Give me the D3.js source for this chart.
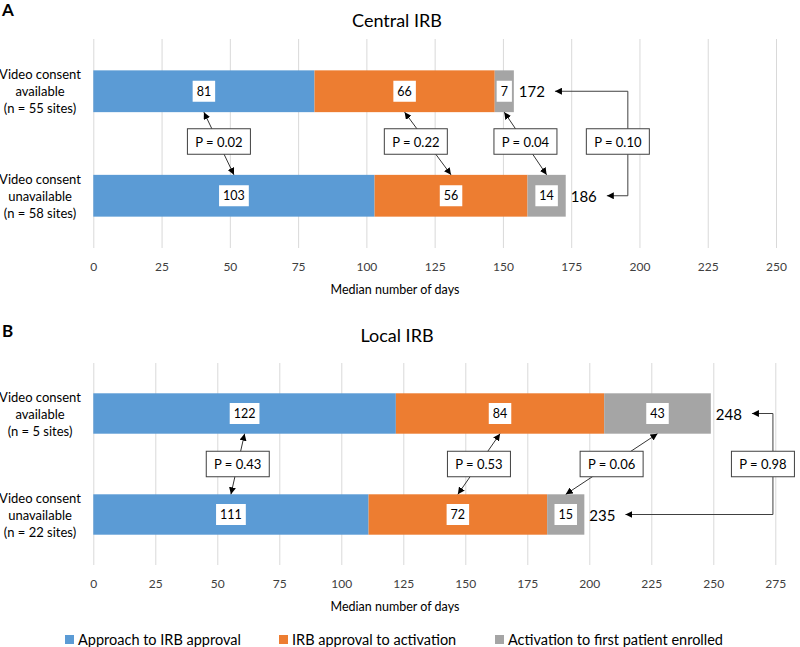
<!DOCTYPE html>
<html><head><meta charset="utf-8">
<script src="https://cdn.jsdelivr.net/npm/d3@7"></script>
<style>body{margin:0;background:#fff} svg{display:block;font-family:Lato, "Open Sans", sans-serif}</style>
</head><body><svg id="c" width="800" height="647"></svg>
<script>
// ---------- data ----------
const seriesNames = ["Approach to IRB approval", "IRB approval to activation", "Activation to first patient enrolled"];
const seriesColors = ["#5B9BD5", "#ED7D31", "#A5A5A5"];

const centralCategories = [["Video consent", "available", "(n = 55 sites)"], ["Video consent", "unavailable", "(n = 58 sites)"]];
const centralApproach = [81, 103];
const centralIrbToActivation = [66, 56];
const centralActivationToFirst = [7, 14];
const centralTotals = [172, 186];
const centralSegmentP = ["P = 0.02", "P = 0.22", "P = 0.04"];
const centralTotalP = "P = 0.10";
const centralTicks = [0, 25, 50, 75, 100, 125, 150, 175, 200, 225, 250];

const localCategories = [["Video consent", "available", "(n = 5 sites)"], ["Video consent", "unavailable", "(n = 22 sites)"]];
const localApproach = [122, 111];
const localIrbToActivation = [84, 72];
const localActivationToFirst = [43, 15];
const localTotals = [248, 235];
const localSegmentP = ["P = 0.43", "P = 0.53", "P = 0.06"];
const localTotalP = "P = 0.98";
const localTicks = [0, 25, 50, 75, 100, 125, 150, 175, 200, 225, 250, 275];

const axisTitle = "Median number of days";

// ---------- layout ----------
const svg = d3.select("#c");
const defs = svg.append("defs");
defs.append("marker").attr("id", "arr").attr("viewBox", "0 0 10 10")
  .attr("refX", 10).attr("refY", 5).attr("markerWidth", 7).attr("markerHeight", 7)
  .attr("markerUnits", "userSpaceOnUse").attr("orient", "auto-start-reverse")
  .append("path").attr("d", "M0,0 L10,5 L0,10 z").attr("fill", "#000");

const panels = [
  {letter: "A", title: "Central IRB", cats: centralCategories,
   series: [centralApproach, centralIrbToActivation, centralActivationToFirst],
   totals: centralTotals, segP: centralSegmentP, totalP: centralTotalP, ticks: centralTicks,
   letterY: 16, titleY: 27, gridTop: 39, gridBottom: 248, x0: 93.3, x1: 776, boxNudge: [0, -12, 0], pBoxDy: -2},
  {letter: "B", title: "Local IRB", cats: localCategories,
   series: [localApproach, localIrbToActivation, localActivationToFirst],
   totals: localTotals, segP: localSegmentP, totalP: localTotalP, ticks: localTicks,
   letterY: 337, titleY: 342, gridTop: 363, gridBottom: 565, x0: 93.3, x1: 775.3, boxNudge: [0, 0, 0], pBoxDy: 0}
];

function pBox(g, cx, cy, label) {
  const w = 63, h = 25.5;
  g.append("rect").attr("x", cx - w / 2).attr("y", cy - h / 2).attr("width", w).attr("height", h)
    .attr("fill", "#fff").attr("stroke", "#404040").attr("stroke-width", 1);
  g.append("text").attr("x", cx).attr("y", cy).attr("text-anchor", "middle")
    .attr("dominant-baseline", "central").attr("font-size", 13).attr("fill", "#000").text(label);
}

panels.forEach(p => {
  const g = svg.append("g");
  const maxTick = p.ticks[p.ticks.length - 1];
  const x = d3.scaleLinear().domain([0, maxTick]).range([p.x0, p.x1]);
  const y = d3.scaleBand().domain([0, 1]).range([p.gridTop, p.gridBottom]).paddingInner(0.6).paddingOuter(0.3);

  // letter and title
  g.append("text").attr("x", 2).attr("y", p.letterY).attr("font-size", 17).attr("font-weight", "bold").text(p.letter);
  g.append("text").attr("x", 397).attr("y", p.titleY).attr("text-anchor", "middle").attr("font-size", 18).attr("fill", "#000").text(p.title);

  // axis + gridlines
  const ax = g.append("g").attr("transform", `translate(0,${p.gridBottom})`)
    .call(d3.axisBottom(x).tickValues(p.ticks).tickSize(-(p.gridBottom - p.gridTop)).tickPadding(14));
  ax.select(".domain").remove();
  ax.selectAll("line").attr("stroke", "#D9D9D9").attr("stroke-width", 1);
  ax.selectAll("text").attr("font-size", 12).attr("fill", "#404040").attr("font-family", "Lato, sans-serif");
  g.append("text").attr("x", 395).attr("y", p.gridBottom + 46).attr("text-anchor", "middle")
    .attr("font-size", 12.5).attr("fill", "#000").text(axisTitle);

  // category labels
  p.cats.forEach((lines, i) => {
    const cy = y(i) + y.bandwidth() / 2;
    lines.forEach((ln, k) => {
      g.append("text").attr("x", 40).attr("y", cy + (k - 1) * 17).attr("text-anchor", "middle")
        .attr("dominant-baseline", "central").attr("font-size", 13).attr("fill", "#000").text(ln);
    });
  });

  // stacked bars
  const stackData = [0, 1].map(i => ({i, a: p.series[0][i], b: p.series[1][i], c: p.series[2][i]}));
  const stacked = d3.stack().keys(["a", "b", "c"])(stackData);
  stacked.forEach((layer, si) => {
    g.append("g").selectAll("rect").data(layer).join("rect")
      .attr("x", d => x(d[0])).attr("width", d => x(d[1]) - x(d[0]))
      .attr("y", d => y(d.data.i)).attr("height", y.bandwidth())
      .attr("fill", seriesColors[si]);
  });

  // value labels
  stacked.forEach((layer, si) => {
    layer.forEach(d => {
      const cx = x((d[0] + d[1]) / 2), cy = y(d.data.i) + y.bandwidth() / 2;
      const t = g.append("text").attr("x", cx).attr("y", cy).attr("text-anchor", "middle")
        .attr("dominant-baseline", "central").attr("font-size", 12.5).attr("fill", "#000")
        .text(d[1] - d[0]);
      const w = t.node().getComputedTextLength() + 8;
      g.insert("rect", () => t.node()).attr("x", cx - w / 2).attr("y", cy - 10.5)
        .attr("width", w).attr("height", 21).attr("fill", "#fff");
    });
  });

  // segment P-value connectors
  const barTopBottom = y(0) + y.bandwidth();
  const barBotTop = y(1);
  const gapMid = (barTopBottom + barBotTop) / 2 + p.pBoxDy;
  stacked.forEach((layer, si) => {
    const xa = x((layer[0][0] + layer[0][1]) / 2);
    const xb = x((layer[1][0] + layer[1][1]) / 2);
    g.append("line").attr("x1", xa).attr("y1", barTopBottom).attr("x2", xb).attr("y2", barBotTop)
      .attr("stroke", "#000").attr("stroke-width", 0.8)
      .attr("marker-start", "url(#arr)").attr("marker-end", "url(#arr)");
    pBox(g, (xa + xb) / 2 + p.boxNudge[si], gapMid, p.segP[si]);
  });

  // totals
  const tips = [];
  const ys = [];
  stacked[2].forEach((d, i) => {
    const cy = y(i) + y.bandwidth() / 2;
    const t = g.append("text").attr("x", x(d[1]) + 5).attr("y", cy).attr("dominant-baseline", "central")
      .attr("font-size", 15).attr("fill", "#000").text(p.totals[i]);
    tips.push(x(d[1]) + 5 + t.node().getComputedTextLength() + 10);
    ys.push(cy);
  });
  const vx = d3.max(tips) + 21;
  const boxTop = gapMid - 12.75, boxBottom = gapMid + 12.75;
  g.append("path").attr("d", `M${vx},${boxTop}V${ys[0]}H${tips[0]}`).attr("fill", "none")
    .attr("stroke", "#404040").attr("stroke-width", 1).attr("marker-end", "url(#arr)");
  g.append("path").attr("d", `M${vx},${boxBottom}V${ys[1]}H${tips[1]}`).attr("fill", "none")
    .attr("stroke", "#404040").attr("stroke-width", 1).attr("marker-end", "url(#arr)");
  pBox(g, vx - 10, gapMid, p.totalP);
});

// legend
const legendX = [65, 279, 495];
const lg = svg.append("g");
seriesNames.forEach((n, i) => {
  lg.append("rect").attr("x", legendX[i]).attr("y", 635).attr("width", 9).attr("height", 9).attr("fill", seriesColors[i]);
  lg.append("text").attr("x", legendX[i] + 13).attr("y", 639.5).attr("dominant-baseline", "central")
    .attr("font-size", 14.5).attr("fill", "#000").text(n);
});
</script></body></html>
